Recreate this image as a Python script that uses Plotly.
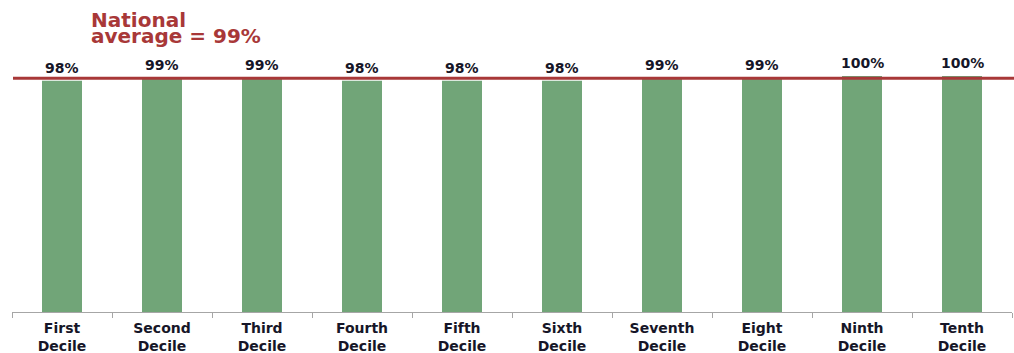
import plotly.graph_objects as go

# Share of households by income decile
categories = ["First<br>Decile", "Second<br>Decile", "Third<br>Decile", "Fourth<br>Decile",
              "Fifth<br>Decile", "Sixth<br>Decile", "Seventh<br>Decile", "Eight<br>Decile",
              "Ninth<br>Decile", "Tenth<br>Decile"]
values = [98, 99, 99, 98, 98, 98, 99, 99, 100, 100]
national_average = 99
title_lines = ["National", f"average = {national_average}%"]

BAR_GREEN = "#71A578"
AVG_RED = "#A83838"
TEXT_DARK = "#161628"
FONT = "DejaVu Sans"

fig = go.Figure()
fig.add_trace(go.Bar(
    x=categories,
    y=values,
    marker=dict(color=BAR_GREEN, line=dict(width=0)),
    hoverinfo="skip",
))

# Value labels above each bar
for cat, val in zip(categories, values):
    fig.add_annotation(
        x=cat, y=val, xref="x", yref="y",
        text=f"<b>{val}%</b>", showarrow=False,
        yanchor="bottom", yshift=3,
        font=dict(family=FONT, size=14, color=TEXT_DARK),
    )

# National average reference line
fig.add_shape(
    type="line", xref="paper", yref="y",
    x0=0.001, x1=1.002, y0=national_average, y1=national_average,
    line=dict(color=AVG_RED, width=3),
    layer="above",
)

# Two-line caption for the reference line, set with tight leading
for i, line in enumerate(title_lines):
    fig.add_annotation(
        xref="paper", yref="paper", x=0.077, y=1.0, yshift=70 - 16 * i,
        xanchor="left", yanchor="top", align="left",
        text=f"<b>{line}</b>",
        showarrow=False,
        font=dict(family=FONT, size=20, color=AVG_RED),
    )

fig.update_layout(
    width=1014, height=353,
    margin=dict(l=12, r=2, t=76, b=41, autoexpand=False),
    paper_bgcolor="white", plot_bgcolor="white",
    bargap=0.6,
    showlegend=False,
    xaxis=dict(
        automargin=False,
        showline=True, linecolor="#A6A6A6", linewidth=1,
        ticks="outside", tickson="boundaries", ticklen=5, tickcolor="#A6A6A6",
        showgrid=False,
        tickfont=dict(family=FONT, size=14, color=TEXT_DARK),
        tickprefix="<b>", ticksuffix="</b>",
        ticklabelstandoff=3,
    ),
    yaxis=dict(range=[0, 100], visible=False, showgrid=False, zeroline=False),
)

fig.write_html("out.html")
